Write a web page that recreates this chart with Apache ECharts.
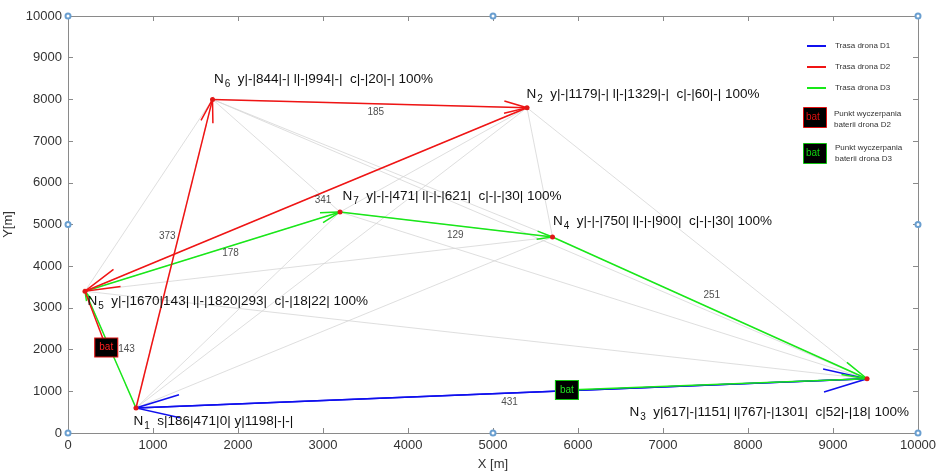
<!DOCTYPE html>
<html>
<head>
<meta charset="utf-8">
<script src="https://cdn.jsdelivr.net/npm/echarts@6/dist/echarts.min.js"></script>
<style>
html, body { margin: 0; padding: 0; background: #fff; }
#chart { width: 939px; height: 473px; }
</style>
</head>
<body>
<div id="chart"></div>
<script>
// wezly (nodes)
var nodeNames = ['1', '2', '3', '4', '5', '6', '7'];
var nodeX = [800, 5400, 9400, 5700, 200, 1700, 3200];
var nodeY = [600, 7800, 1300, 4700, 3400, 8000, 5300];
var nodeInfo = [
    's|186|471|0| y|1198|-|-|',
    'y|-|1179|-| l|-|1329|-|  c|-|60|-| 100%',
    'y|617|-|1151| l|767|-|1301|  c|52|-|18| 100%',
    'y|-|-|750| l|-|-|900|  c|-|-|30| 100%',
    'y|-|1670|143| l|-|1820|293|  c|-|18|22| 100%',
    'y|-|844|-| l|-|994|-|  c|-|20|-| 100%',
    'y|-|-|471| l|-|-|621|  c|-|-|30| 100%'
];

// trasy dronow (indeksy wezlow)
var routeD1 = [0, 2, 0];
var routeD2 = [0, 5, 1, 4];
var routeD3 = [0, 4, 6, 3, 2];
// punkty wyczerpania baterii
var batD2 = [450, 2050];
var batD3 = [5870, 1030];

// odleglosci na krawedziach
var edgeFrom = [0, 5, 1, 4, 6, 3, 0, 4];
var edgeTo   = [5, 1, 4, 6, 3, 2, 2, 0];
var edgeDist = [373, 185, 341, 178, 129, 251, 431, 143];

var handleX = [0, 5000, 10000, 0, 10000, 0, 5000, 10000];
var handleY = [0, 0, 0, 5000, 5000, 10000, 10000, 10000];

var FONT = '"Liberation Sans", Arial, sans-serif';
var nodeLabelOffset = [[-5, 13], [-3, -13], [-240, 33], [-2, -16], [0, 10], [-1, -20], [0, -16]];
var edgeLabelOffset = [[-7, -17], [6, 9], [17, 1], [18, 2], [9, 11], [2, -13], [8, 9], [16, 0]];

function routeSegments(route, endPoint) {
    var segs = [];
    for (var i = 0; i < route.length - 1; i++) {
        var a = route[i], b = route[i + 1];
        segs.push([nodeX[a], nodeY[a], nodeX[b], nodeY[b], 1]);
    }
    if (endPoint) {
        var last = route[route.length - 1];
        segs.push([nodeX[last], nodeY[last], endPoint[0], endPoint[1], 0]);
    }
    return segs;
}

function renderArrow(params, api) {
    var p1 = api.coord([api.value(0), api.value(1)]);
    var p2 = api.coord([api.value(2), api.value(3)]);
    var color = api.visual('color');
    var children = [{
        type: 'line',
        shape: { x1: p1[0], y1: p1[1], x2: p2[0], y2: p2[1] },
        style: { stroke: color, lineWidth: 1.5 }
    }];
    if (api.value(4)) {
        var dx = p2[0] - p1[0], dy = p2[1] - p1[1];
        var len = Math.sqrt(dx * dx + dy * dy);
        var ang = Math.atan2(dy, dx);
        var h = Math.min(45, Math.max(10, len * 0.075));
        var a = 0.26;
        children.push({
            type: 'polyline',
            shape: { points: [
                [p2[0] - h * Math.cos(ang - a), p2[1] - h * Math.sin(ang - a)],
                [p2[0], p2[1]],
                [p2[0] - h * Math.cos(ang + a), p2[1] - h * Math.sin(ang + a)]
            ] },
            style: { stroke: color, lineWidth: 1.5, fill: null }
        });
    }
    return { type: 'group', children: children };
}

var greyEdges = [];
for (var i = 0; i < nodeX.length; i++) {
    for (var j = i + 1; j < nodeX.length; j++) {
        greyEdges.push({ coords: [[nodeX[i], nodeY[i]], [nodeX[j], nodeY[j]]] });
    }
}

var nodeData = nodeNames.map(function (n, i) {
    return {
        value: [nodeX[i], nodeY[i]],
        label: {
            formatter: '{n|N}{s|' + n + '}{t|  ' + nodeInfo[i] + '}',
            offset: nodeLabelOffset[i]
        }
    };
});

var edgeData = edgeDist.map(function (d, i) {
    return {
        value: [(nodeX[edgeFrom[i]] + nodeX[edgeTo[i]]) / 2, (nodeY[edgeFrom[i]] + nodeY[edgeTo[i]]) / 2, d],
        label: { offset: edgeLabelOffset[i] }
    };
});

function arrowSeries(name, color, data) {
    return {
        name: name,
        type: 'custom',
        coordinateSystem: 'cartesian2d',
        renderItem: renderArrow,
        itemStyle: { color: color },
        encode: { x: [0, 2], y: [1, 3] },
        data: data,
        silent: true,
        z: 3
    };
}

function batSeries(point, color, textColor) {
    return {
        type: 'scatter',
        data: [point],
        symbol: 'rect',
        symbolSize: [23, 19],
        itemStyle: { color: '#000', borderColor: color, borderWidth: 1, opacity: 1 },
        label: { show: true, position: 'inside', formatter: 'bat', color: textColor, fontSize: 10, fontFamily: FONT },
        silent: true,
        z: 7
    };
}

function axisCommon(extra) {
    var ax = {
        type: 'value',
        min: 0,
        max: 10000,
        interval: 1000,
        axisLine: { show: true, onZero: false, lineStyle: { color: '#8a8a8a', width: 1 } },
        axisTick: { show: true, inside: true, length: 5, lineStyle: { color: '#8a8a8a' } },
        splitLine: { show: false },
        axisLabel: { color: '#333', fontSize: 13, fontFamily: FONT, margin: 6, formatter: function (v) { return String(v); } }
    };
    for (var k in extra) ax[k] = extra[k];
    return ax;
}

var chart = echarts.init(document.getElementById('chart'));
chart.setOption({
    animation: false,
    textStyle: { fontFamily: FONT },
    grid: { left: 68, right: 21, top: 16, bottom: 40, containLabel: false, outerBoundsMode: 'none' },
    xAxis: [
        axisCommon({ position: 'bottom', name: 'X [m]', nameLocation: 'middle', nameGap: 25,
            nameTextStyle: { color: '#333', fontSize: 13, fontFamily: FONT } }),
        axisCommon({ position: 'top', axisLabel: { show: false } })
    ],
    yAxis: [
        axisCommon({ position: 'left', name: 'Y[m]', nameLocation: 'middle', nameGap: 48,
            nameTextStyle: { color: '#333', fontSize: 13, fontFamily: FONT } }),
        axisCommon({ position: 'right', axisLabel: { show: false } })
    ],
    legend: {
        orient: 'vertical',
        left: 802,
        top: 37,
        itemWidth: 19,
        itemHeight: 2,
        itemGap: 13,
        icon: 'rect',
        textStyle: { fontSize: 8, color: '#333', fontFamily: FONT, padding: [0, 0, 0, 4] },
        data: ['Trasa drona D1', 'Trasa drona D2', 'Trasa drona D3']
    },
    graphic: [
        { type: 'rect', left: 803, top: 107, shape: { width: 23, height: 20 },
          style: { fill: '#000', stroke: '#e01010', lineWidth: 1 } },
        { type: 'text', left: 806, top: 112, style: { text: 'bat', fill: '#e01010', font: '10px ' + FONT } },
        { type: 'text', left: 834, top: 108, style: { text: 'Punkt wyczerpania\nbaterii drona D2', fill: '#333', font: '8px ' + FONT, lineHeight: 11 } },
        { type: 'rect', left: 803, top: 143, shape: { width: 23, height: 20 },
          style: { fill: '#000', stroke: '#10c010', lineWidth: 1 } },
        { type: 'text', left: 806, top: 148, style: { text: 'bat', fill: '#10d010', font: '10px ' + FONT } },
        { type: 'text', left: 835, top: 142, style: { text: 'Punkt wyczerpania\nbaterii drona D3', fill: '#333', font: '8px ' + FONT, lineHeight: 11 } }
    ],
    series: [
        {
            type: 'lines',
            coordinateSystem: 'cartesian2d',
            data: greyEdges,
            lineStyle: { color: '#d6d6d6', width: 0.8, opacity: 1 },
            silent: true,
            z: 1
        },
        arrowSeries('Trasa drona D1', '#1010ee', routeSegments(routeD1, null)),
        arrowSeries('Trasa drona D3', '#18e818', routeSegments(routeD3, batD3)),
        arrowSeries('Trasa drona D2', '#f01414', routeSegments(routeD2, batD2)),
        {
            type: 'scatter',
            data: nodeData,
            symbolSize: 5,
            itemStyle: { color: '#e01818', opacity: 1 },
            z: 5,
            label: {
                show: true,
                position: 'right',
                distance: 0,
                rich: {
                    n: { fontSize: 13.5, color: '#111', fontFamily: FONT },
                    s: { fontSize: 10, color: '#111', fontFamily: FONT, padding: [10, 0, 0, 1] },
                    t: { fontSize: 13.5, color: '#111', fontFamily: FONT }
                }
            }
        },
        {
            type: 'scatter',
            data: edgeData,
            symbolSize: 0,
            silent: true,
            z: 6,
            label: {
                show: true,
                position: 'inside',
                color: '#222',
                fontSize: 10,
                fontFamily: FONT,
                formatter: function (p) { return String(p.value[2]); }
            }
        },
        batSeries(batD2, '#e01010', '#ff2020'),
        batSeries(batD3, '#10c010', '#20e020'),
        {
            type: 'scatter',
            data: handleX.map(function (x, i) { return [x, handleY[i]]; }),
            symbol: 'emptyCircle',
            symbolSize: 5,
            itemStyle: { color: '#6a9fd0', borderWidth: 1, opacity: 1 },
            silent: true,
            z: 8
        }
    ]
});
</script>
</body>
</html>
